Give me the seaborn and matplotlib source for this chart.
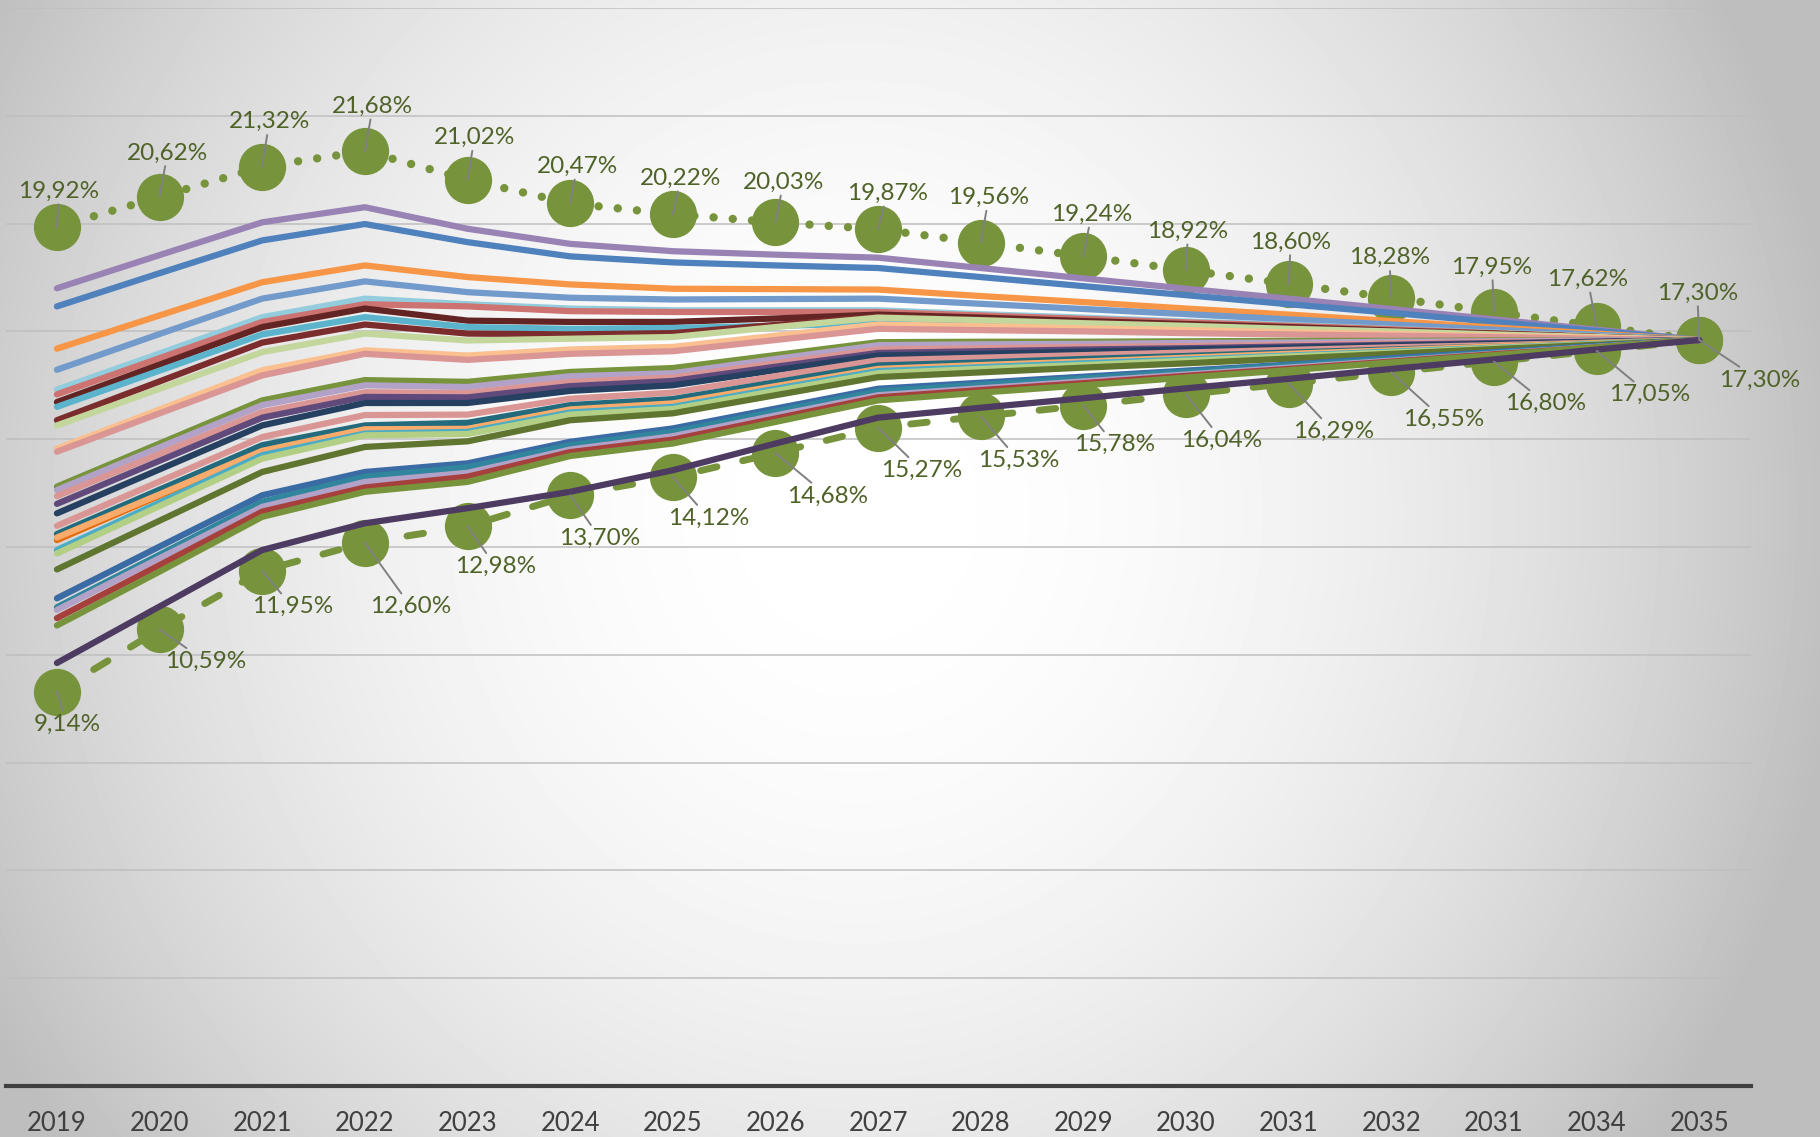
import matplotlib
matplotlib.use("Agg")
import matplotlib.pyplot as plt
import numpy as np
import pandas as pd
import seaborn as sns

# x axis labels as printed on the chart (the second "2031" is in the original)
years = ["2019", "2020", "2021", "2022", "2023", "2024", "2025", "2026", "2027",
         "2028", "2029", "2030", "2031", "2032", "2031", "2034", "2035"]

max_share = [19.92, 20.62, 21.32, 21.68, 21.02, 20.47, 20.22, 20.03, 19.87,
             19.56, 19.24, 18.92, 18.60, 18.28, 17.95, 17.62, 17.30]
min_share = [9.14, 10.59, 11.95, 12.60, 12.98, 13.70, 14.12, 14.68, 15.27,
             15.53, 15.78, 16.04, 16.29, 16.55, 16.80, 17.05, 17.30]

line_01 = [18.50, 19.27, 20.03, 20.38, 19.88, 19.53, 19.36, 19.28, 19.21, 18.97, 18.73, 18.49, 18.26, 18.02, 17.78, 17.54, 17.30]
line_02 = [18.08, 18.85, 19.61, 19.99, 19.57, 19.24, 19.10, 19.03, 18.97, 18.76, 18.55, 18.34, 18.13, 17.93, 17.72, 17.51, 17.30]
line_03 = [17.10, 17.87, 18.64, 19.03, 18.76, 18.59, 18.49, 18.48, 18.47, 18.32, 18.18, 18.03, 17.89, 17.74, 17.59, 17.45, 17.30]
line_04 = [16.61, 17.44, 18.26, 18.66, 18.41, 18.28, 18.24, 18.25, 18.26, 18.14, 18.02, 17.90, 17.78, 17.66, 17.54, 17.42, 17.30]
line_05 = [16.15, 16.99, 17.83, 18.26, 18.13, 18.03, 17.99, 17.99, 17.99, 17.90, 17.82, 17.73, 17.65, 17.56, 17.47, 17.39, 17.30]
line_06 = [16.04, 16.88, 17.72, 18.13, 18.08, 17.97, 17.95, 17.95, 17.95, 17.87, 17.79, 17.71, 17.63, 17.55, 17.46, 17.38, 17.30]
line_07 = [15.86, 16.73, 17.60, 18.03, 17.75, 17.72, 17.72, 17.80, 17.89, 17.82, 17.74, 17.67, 17.60, 17.52, 17.45, 17.37, 17.30]
line_08 = [15.75, 16.59, 17.43, 17.83, 17.60, 17.56, 17.58, 17.63, 17.68, 17.63, 17.58, 17.54, 17.49, 17.44, 17.39, 17.35, 17.30]
line_09 = [15.44, 16.34, 17.24, 17.66, 17.45, 17.43, 17.46, 17.65, 17.84, 17.77, 17.70, 17.64, 17.57, 17.50, 17.44, 17.37, 17.30]
line_10 = [15.32, 16.17, 17.02, 17.45, 17.29, 17.33, 17.37, 17.60, 17.82, 17.76, 17.69, 17.63, 17.56, 17.50, 17.43, 17.37, 17.30]
line_11 = [14.78, 15.69, 16.60, 17.06, 16.94, 17.08, 17.14, 17.40, 17.66, 17.62, 17.57, 17.53, 17.48, 17.44, 17.39, 17.35, 17.30]
line_12 = [14.71, 15.60, 16.48, 16.98, 16.84, 16.98, 17.04, 17.30, 17.56, 17.53, 17.50, 17.46, 17.43, 17.40, 17.37, 17.33, 17.30]
line_13 = [13.90, 14.90, 15.90, 16.37, 16.33, 16.56, 16.65, 16.95, 17.25, 17.26, 17.26, 17.27, 17.28, 17.28, 17.29, 17.29, 17.30]
line_14 = [13.82, 14.81, 15.79, 16.25, 16.21, 16.46, 16.53, 16.86, 17.18, 17.20, 17.21, 17.23, 17.24, 17.26, 17.27, 17.29, 17.30]
line_15 = [13.68, 14.66, 15.63, 16.09, 16.07, 16.33, 16.43, 16.76, 17.08, 17.11, 17.14, 17.16, 17.19, 17.22, 17.25, 17.27, 17.30]
line_16 = [13.50, 14.50, 15.50, 15.98, 15.97, 16.23, 16.35, 16.68, 17.00, 17.04, 17.08, 17.11, 17.15, 17.19, 17.23, 17.26, 17.30]
line_17 = [13.28, 14.30, 15.32, 15.84, 15.84, 16.12, 16.25, 16.60, 16.94, 16.98, 17.03, 17.08, 17.12, 17.17, 17.21, 17.26, 17.30]
line_18 = [12.99, 14.02, 15.05, 15.56, 15.57, 15.94, 16.08, 16.46, 16.83, 16.89, 16.95, 17.01, 17.07, 17.13, 17.18, 17.24, 17.30]
line_19 = [12.80, 13.83, 14.86, 15.32, 15.38, 15.79, 15.93, 16.32, 16.71, 16.78, 16.86, 16.93, 17.01, 17.08, 17.15, 17.23, 17.30]
line_20 = [12.66, 13.69, 14.71, 15.21, 15.22, 15.67, 15.81, 16.21, 16.61, 16.70, 16.78, 16.87, 16.96, 17.04, 17.13, 17.21, 17.30]
line_21 = [12.72, 13.72, 14.73, 15.23, 15.24, 15.69, 15.83, 16.23, 16.63, 16.72, 16.80, 16.89, 16.98, 17.06, 17.15, 17.23, 17.30]
line_22 = [12.43, 13.53, 14.63, 15.13, 15.17, 15.62, 15.75, 16.17, 16.58, 16.67, 16.76, 16.85, 16.94, 17.03, 17.12, 17.21, 17.30]
line_23 = [12.35, 13.45, 14.55, 15.09, 15.12, 15.57, 15.70, 16.12, 16.53, 16.63, 16.72, 16.82, 16.92, 17.01, 17.11, 17.20, 17.30]
line_24 = [11.98, 13.11, 14.24, 14.82, 14.95, 15.44, 15.60, 16.02, 16.44, 16.55, 16.66, 16.76, 16.87, 16.98, 17.09, 17.19, 17.30]
line_25 = [11.31, 12.51, 13.70, 14.24, 14.44, 14.94, 15.25, 15.71, 16.17, 16.31, 16.45, 16.59, 16.73, 16.88, 17.02, 17.16, 17.30]
line_26 = [11.10, 12.32, 13.55, 14.13, 14.35, 14.86, 15.17, 15.64, 16.11, 16.26, 16.41, 16.56, 16.71, 16.85, 17.00, 17.15, 17.30]
line_27 = [11.04, 12.24, 13.43, 14.01, 14.22, 14.76, 15.07, 15.55, 16.02, 16.18, 16.34, 16.50, 16.66, 16.82, 16.98, 17.14, 17.30]
line_28 = [10.85, 12.08, 13.32, 13.88, 14.13, 14.70, 14.99, 15.48, 15.97, 16.14, 16.30, 16.47, 16.63, 16.80, 16.97, 17.13, 17.30]
line_29 = [10.68, 11.93, 13.20, 13.78, 14.01, 14.61, 14.90, 15.40, 15.90, 16.08, 16.25, 16.43, 16.60, 16.78, 16.95, 17.13, 17.30]
line_30 = [9.81, 11.12, 12.43, 13.05, 13.40, 13.78, 14.28, 14.90, 15.50, 15.73, 15.95, 16.18, 16.40, 16.63, 16.85, 17.08, 17.30]

lines = [line_01, line_02, line_03, line_04, line_05, line_06, line_07, line_08,
         line_09, line_10, line_11, line_12, line_13, line_14, line_15, line_16,
         line_17, line_18, line_19, line_20, line_21, line_22, line_23, line_24,
         line_25, line_26, line_27, line_28, line_29, line_30]
colors = ["#9983B5", "#4F81BD", "#F79646", "#729ACA", "#93CDDD", "#CD7371",
          "#632523", "#5BB4CB", "#7B2C2C", "#C3D69B", "#FAC090", "#D99694",
          "#77933C", "#B3A2C7", "#D99694", "#604A7B", "#254061", "#DA9694",
          "#236B7C", "#E46C0A", "#F9AB6B", "#4BACC6", "#B3CF85", "#5F7530",
          "#3B6BA5", "#31859C", "#B3A2C7", "#A5403D", "#77933C", "#4D3B62"]

# label offsets in pixels (dx right, dy down) from each marker
top_off = [(2, -36), (8, -44), (7, -45), (8, -45), (7, -42), (7, -37), (8, -36), (8, -40), (9, -36),
           (8, -45), (8, -42), (2, -39), (2, -42), (-2, -40), (-2, -45), (-9, -47), (-2, -47)]
bot_off = [(10, 32), (46, 32), (30, 36), (46, 64), (28, 40), (30, 43), (36, 41), (52, 43), (44, 43),
           (38, 44), (31, 39), (36, 46), (45, 48), (52, 47), (52, 42), (53, 44), (60, 40)]

W, H = 1820, 1137
fig = plt.figure(figsize=(W / 100, H / 100), dpi=100)

# radial grey background, white in the middle
yy, xx = np.mgrid[0:H, 0:W]
r2 = ((xx - 0.47 * W) / (0.5 * W)) ** 2 + ((yy - 0.45 * H) / (0.85 * H)) ** 2
bg = np.clip(255 - 55 * r2, 190, 255)
fig.figimage(bg, xo=0, yo=0, cmap="gray", vmin=0, vmax=255, origin="upper", zorder=-10)

ax = fig.add_axes([5.6 / W, 51 / H, 1745 / W, 1078 / H])
ax.set_facecolor("none")

idx = np.arange(len(years))
green = "#77933C"
sns.lineplot(x=idx, y=max_share, ax=ax, color=green, linewidth=6,
             linestyle=(0, (0.01, 2.3)), dash_capstyle="round",
             marker="o", markersize=34, markeredgewidth=0, zorder=2)
sns.lineplot(x=idx, y=min_share, ax=ax, color=green, linewidth=5,
             linestyle=(0, (2.4, 3.8)), dash_capstyle="round",
             marker="o", markersize=34, markeredgewidth=0, zorder=2)

df = pd.DataFrame({
    "x": np.tile(idx, len(lines)),
    "share": np.concatenate(lines),
    "series": np.repeat([f"s{i:02d}" for i in range(len(lines))], len(idx)),
})
sns.lineplot(data=df, x="x", y="share", hue="series", palette=colors, ax=ax,
             linewidth=4.5, legend=False, sort=False, estimator=None,
             solid_capstyle="round", zorder=3)

def pct(v):
    return f"{v:.2f}".replace(".", ",") + "%"

label_kw = dict(textcoords="offset points", ha="center", va="center",
                fontsize=17.5, color="#4F6228", family=["Lato", "DejaVu Sans"], zorder=10,
                arrowprops=dict(arrowstyle="-", color="#808080", lw=1.4, shrinkA=0, shrinkB=0))
for i, v in enumerate(max_share):
    dx, dy = top_off[i]
    ax.annotate(pct(v), xy=(i, v), xytext=(dx * 0.72, -dy * 0.72), **label_kw)
for i, v in enumerate(min_share):
    dx, dy = bot_off[i]
    ax.annotate(pct(v), xy=(i, v), xytext=(dx * 0.72, -dy * 0.72), **label_kw)

ax.set_xlim(-0.5, 16.5)
ax.set_ylim(0, 25)
ax.set_yticks(np.arange(2.5, 25.1, 2.5))
ax.yaxis.grid(True, color="#BFBFBF", linewidth=1.1)
ax.set_axisbelow(True)
ax.tick_params(axis="y", left=False, labelleft=False)
ax.set_xticks(idx)
ax.set_xticklabels(years, fontsize=18.5, color="#404040", family=["Lato", "DejaVu Sans"])
ax.tick_params(axis="x", length=0, pad=18)
ax.set_xlabel("")
ax.set_ylabel("")
for s in ["top", "left", "right"]:
    ax.spines[s].set_visible(False)
ax.spines["bottom"].set_color("#404040")
ax.spines["bottom"].set_linewidth(3)

fig.savefig("out.png", dpi=100)
